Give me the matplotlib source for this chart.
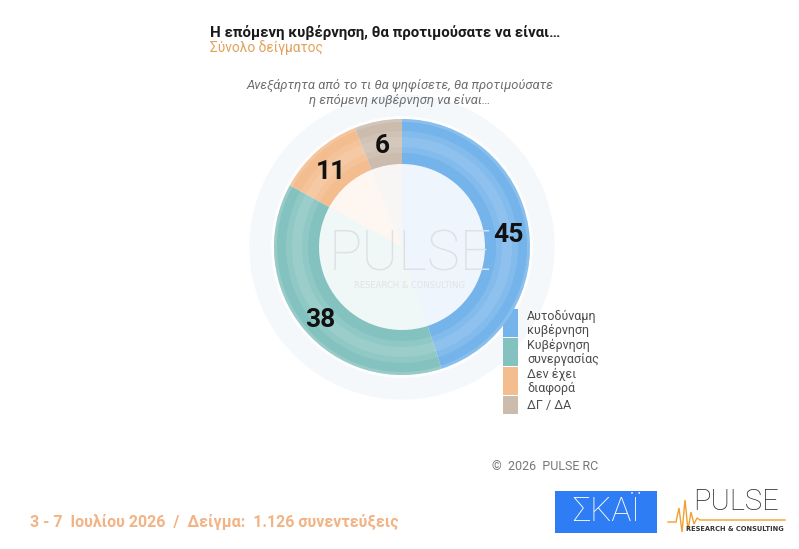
import matplotlib
matplotlib.use("Agg")
import matplotlib.pyplot as plt
from matplotlib.patches import Circle, Wedge, Rectangle

# ---- data ----
categories = ["Αυτοδύναμη\nκυβέρνηση", "Κυβέρνηση\nσυνεργασίας", "Δεν έχει\nδιαφορά", "ΔΓ / ΔΑ"]
values = [45, 38, 11, 6]
colors = ["#74b4ea", "#84c2bf", "#f3bd8f", "#cbbcad"]
title = "Η επόμενη κυβέρνηση, θα προτιμούσατε να είναι…"
subtitle = "Σύνολο δείγματος"
question = "Ανεξάρτητα από το τι θα ψηφίσετε, θα προτιμούσατε\nη επόμενη κυβέρνηση να είναι…"
footer = "3 - 7  Ιουλίου 2026  /  Δείγμα:  1.126 συνεντεύξεις"
copyright_txt = "©  2026  PULSE RC"

W, H = 799, 549
fig = plt.figure(figsize=(W / 100, H / 100), dpi=100)
ax = fig.add_axes([0, 0, 1, 1])

FONT = ["Roboto", "DejaVu Sans"]

def Y(py):
    return H - py

cx, cy = 402, Y(247)
R_out, R_in = 128, 83

# halo
ax.add_patch(Circle((cx, cy), 152, color="#f5f8fa", zorder=0))
ax.add_patch(Circle((cx, cy), R_out + 2, color="white", zorder=0.5))

# faint inner pie
ax.pie(values, colors=colors, startangle=90, counterclock=False, radius=R_out,
       center=(cx, cy), wedgeprops=dict(alpha=0.12, linewidth=0), frame=True)
# main ring
wedges, _ = ax.pie(values, colors=colors, startangle=90, counterclock=False, radius=R_out,
                   center=(cx, cy), wedgeprops=dict(width=R_out - R_in, linewidth=0), frame=True)
ax.set_xlim(0, W)
ax.set_ylim(0, H)
ax.set_aspect("equal")
ax.axis("off")

# subtle highlight bands on ring
ax.add_patch(Wedge((cx, cy), 116, 0, 360, width=22, color="white", alpha=0.10, lw=0, zorder=3))
ax.add_patch(Wedge((cx, cy), 110, 0, 360, width=10, color="white", alpha=0.10, lw=0, zorder=3))
ax.add_patch(Wedge((cx, cy), R_out, 0, 360, width=3, color="white", alpha=0.15, lw=0, zorder=3))

# value labels
label_pos = [(508, 235), (320, 320), (331, 172), (382, 146)]
for v, (px, py) in zip(values, label_pos):
    ax.text(px, Y(py), str(v), ha="center", va="center", fontsize=19, fontweight="bold",
            family=FONT, color="#111111", zorder=5)

# watermark
ax.text(cx + 8, Y(255), "PULSE", ha="center", va="center", fontsize=40, color="#dde1e5",
        family=FONT, fontweight="light", zorder=2)
ax.text(cx + 8, Y(285), "RESEARCH & CONSULTING", ha="center", va="center", fontsize=6,
        color="#e0e3e6", zorder=2)

# titles
ax.text(210, Y(32), title, ha="left", va="center", fontsize=10.8, fontweight="bold",
        family=FONT, color="#1a1a1a")
ax.text(210, Y(48), subtitle, ha="left", va="center", fontsize=9.9,
        family=FONT, color="#e3a25c")
ax.text(400, Y(93), question, ha="center", va="center", fontsize=9.4, style="italic",
        family=FONT, color="#6e6e6e", linespacing=1.25)

# legend
leg_x, leg_w = 503, 15
box_tops = [309, 338, 367, 396]
box_h = [28, 28, 28, 18]
for cat, col, top, hgt in zip(categories, colors, box_tops, box_h):
    ax.add_patch(Rectangle((leg_x, Y(top + hgt)), leg_w, hgt, color=col, lw=0))
    ax.text(leg_x + 24, Y(top + hgt / 2 + 0.5), cat, ha="left", va="center", fontsize=9,
            family=FONT, color="#4d4d4d", linespacing=1.1)

# copyright
ax.text(492, Y(467), copyright_txt, ha="left", va="center", fontsize=9,
        family=FONT, color="#777777")

# footer
ax.text(30, Y(522), footer, ha="left", va="center", fontsize=11.5, fontweight="bold",
        family=FONT, color="#f2b385")

# SKAI logo
ax.add_patch(Rectangle((555, Y(533)), 102, 42, color="#2f7df5", lw=0))
ax.text(606, Y(512), "ΣΚΑΪ", ha="center", va="center", fontsize=24, color="white",
        family=FONT, fontweight="light")

# PULSE logo
ax.text(736, Y(502), "PULSE", ha="center", va="center", fontsize=21, color="#2a2a2a",
        family=FONT, fontweight="light")
ax.plot([668, 676, 679, 682, 685, 688, 691, 694, 697, 700, 785],
        [Y(522), Y(522), Y(508), Y(532), Y(500), Y(530), Y(512), Y(524), Y(518), Y(520), Y(520)],
        color="#f0a030", lw=1, solid_joinstyle="miter")
ax.text(735, Y(529), "RESEARCH & CONSULTING", ha="center", va="center", fontsize=4.8,
        color="#333333", fontweight="bold")

fig.savefig("out.png", dpi=100)
